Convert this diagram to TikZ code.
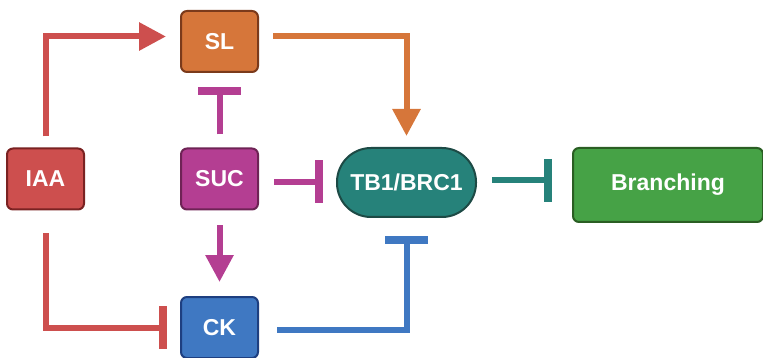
\documentclass[tikz,border=0pt]{standalone}
\usepackage{fontspec}
\setmainfont{Liberation Sans}
\usetikzlibrary{arrows.meta}

\definecolor{iaared}{HTML}{CD4F4E}
\definecolor{iaaedge}{HTML}{7A2222}
\definecolor{slorange}{HTML}{D6763A}
\definecolor{sledge}{HTML}{7B3A1B}
\definecolor{sucpink}{HTML}{B43E92}
\definecolor{sucedge}{HTML}{6E2355}
\definecolor{ckblue}{HTML}{3F78C2}
\definecolor{ckedge}{HTML}{1E3F80}
\definecolor{tbteal}{HTML}{26827A}
\definecolor{tbedge}{HTML}{1D4A45}
\definecolor{brgreen}{HTML}{46A246}
\definecolor{bredge}{HTML}{2A5E23}

\begin{document}
\begin{tikzpicture}[x=1pt, y=-1pt,
    box/.style={draw, line width=2pt, rounded corners=6pt, text=white,
        minimum width=77pt, minimum height=61pt,
        font=\fontsize{23}{27}\selectfont\bfseries},
    act/.style={line width=6pt, -{Triangle[length=27pt,width=27pt]}},
    inh/.style={line width=6pt, -{Bar[width=43pt,line width=8pt]}}]
    \useasboundingbox (0,0) rectangle (763,358);

    % Nodes
    \node[box, fill=iaared, draw=iaaedge] (iaa) at (45.5,179) {IAA};
    \node[box, fill=slorange, draw=sledge] (sl) at (219.5,41.5) {SL};
    \node[box, fill=sucpink, draw=sucedge] (suc) at (219.5,179) {SUC};
    \node[box, fill=ckblue, draw=ckedge] (ck) at (219.5,327.5) {CK};
    \node[box, fill=tbteal, draw=tbedge, rounded corners=34pt,
        minimum width=139pt, minimum height=69pt] (tb) at (406.5,182.5) {TB1/BRC1};
    \node[box, fill=brgreen, draw=bredge, minimum width=190pt,
        minimum height=74pt] (br) at (668,185) {Branching};

    % Activation
    \draw[act, iaared, shorten <=11pt, shorten >=14pt]
        (iaa.north) |- ([yshift=5pt]sl.west);
    \draw[act, slorange, shorten <=14pt, shorten >=11pt]
        ([yshift=5pt]sl.east) -| (tb.north);
    \draw[act, sucpink, shorten <=15pt, shorten >=14pt] (suc.south) -- (ck.north);

    % Inhibition
    \draw[inh, sucpink, shorten <=13pt, shorten >=14pt] (suc.north) -- (sl.south);
    \draw[inh, sucpink, shorten <=15pt, shorten >=13pt]
        ([yshift=-3pt]suc.east) -- ([yshift=-3pt]suc.east -| tb.west);
    \draw[inh, iaared, shorten <=23pt, shorten >=13pt] (iaa.south) |- (ck.west);
    \draw[inh, ckblue, shorten <=18pt, shorten >=18pt]
        ([yshift=-2pt]ck.east) -| (tb.south);
    \draw[inh, tbteal, shorten <=15pt, shorten >=20pt]
        ([yshift=2pt]tb.east) -- ([yshift=2pt]tb.east -| br.west);
\end{tikzpicture}
\end{document}
